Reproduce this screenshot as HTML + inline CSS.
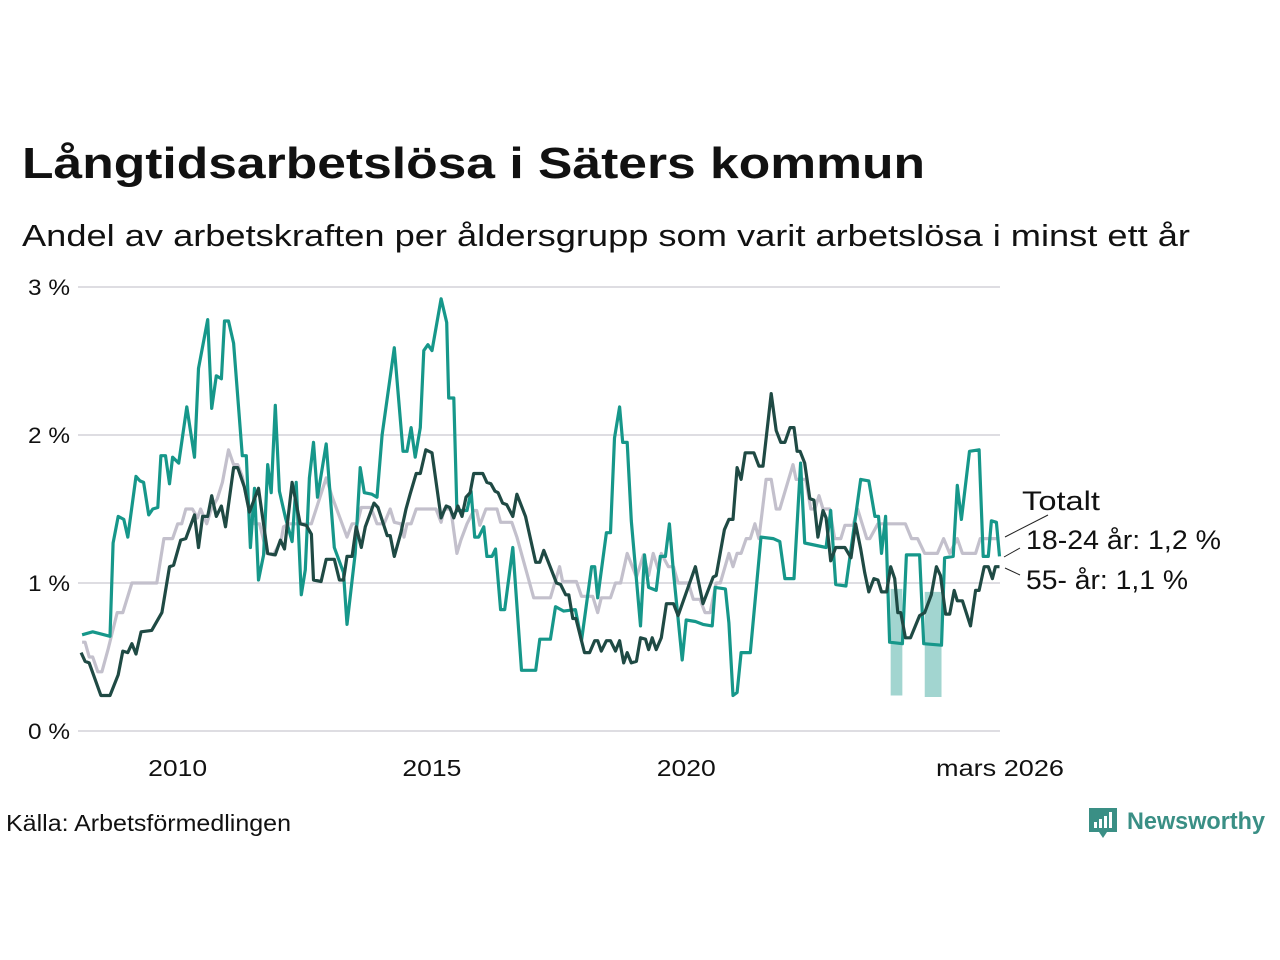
<!DOCTYPE html>
<html><head><meta charset="utf-8"><style>
html,body{margin:0;padding:0;background:#fff;}
svg{display:block;font-family:"Liberation Sans",sans-serif;}
</style></head><body>
<svg id="chart" width="1280" height="960" viewBox="0 0 1280 960">
<text x="22" y="178" font-size="44" font-weight="bold" fill="#111" textLength="903" lengthAdjust="spacingAndGlyphs">Långtidsarbetslösa i Säters kommun</text>
<text x="22" y="246" font-size="31" fill="#111" textLength="1168" lengthAdjust="spacingAndGlyphs">Andel av arbetskraften per åldersgrupp som varit arbetslösa i minst ett år</text>
<g id="grid"></g>
<g id="bands"></g>
<g id="lines"></g>
<g id="labels"></g>
<g>
<line x1="1005" y1="537" x2="1048" y2="515" stroke="#222" stroke-width="1"/>
<line x1="1004" y1="557" x2="1020" y2="548" stroke="#222" stroke-width="1"/>
<line x1="1005" y1="568" x2="1020" y2="575" stroke="#222" stroke-width="1"/>
<text x="1022" y="510" font-size="27" fill="#111" textLength="78" lengthAdjust="spacingAndGlyphs">Totalt</text>
<text x="1026" y="549" font-size="27" fill="#111" textLength="195" lengthAdjust="spacingAndGlyphs">18-24 år: 1,2 %</text>
<text x="1026" y="589" font-size="27" fill="#111" textLength="162" lengthAdjust="spacingAndGlyphs">55- år: 1,1 %</text>
</g>
<text x="6" y="831" font-size="23" fill="#111" textLength="285" lengthAdjust="spacingAndGlyphs">Källa: Arbetsförmedlingen</text>
<g>
<path d="M1089 808 h28 v24 h-10 l-4 6 l-4 -6 h-10 z" fill="#3a8f85"/>
<rect x="1094" y="822" width="3" height="6" fill="#fff"/><rect x="1099" y="819" width="3" height="9" fill="#fff"/><rect x="1104" y="816" width="3" height="12" fill="#fff"/><rect x="1109" y="812" width="3" height="16" fill="#fff"/>
<text x="1127" y="829" font-size="24" font-weight="bold" fill="#3a8f85" textLength="138" lengthAdjust="spacingAndGlyphs">Newsworthy</text>
</g>
</svg>
<script>
const yTicks=[0,1,2,3];
const yTickLabels=["0 %","1 %","2 %","3 %"];
const xTicks=[2010,2015,2020,2026.17];
const xTickLabels=["2010","2015","2020","mars 2026"];
const youthT=[2008.12,2008.33,2008.67,2008.73,2008.83,2008.94,2009.02,2009.18,2009.26,2009.33,2009.43,2009.51,2009.61,2009.67,2009.76,2009.84,2009.90,2010.02,2010.08,2010.18,2010.33,2010.41,2010.59,2010.67,2010.76,2010.86,2010.92,2011.00,2011.10,2011.27,2011.35,2011.43,2011.51,2011.59,2011.69,2011.77,2011.84,2011.92,2012.00,2012.12,2012.25,2012.33,2012.43,2012.51,2012.59,2012.67,2012.75,2012.92,2013.08,2013.26,2013.33,2013.49,2013.59,2013.67,2013.82,2013.92,2014.02,2014.26,2014.43,2014.51,2014.59,2014.67,2014.77,2014.84,2014.92,2015.00,2015.18,2015.29,2015.33,2015.43,2015.49,2015.69,2015.77,2015.84,2015.92,2016.02,2016.08,2016.18,2016.25,2016.35,2016.43,2016.59,2016.76,2017.04,2017.12,2017.33,2017.43,2017.59,2017.82,2017.94,2018.14,2018.20,2018.26,2018.43,2018.51,2018.59,2018.69,2018.75,2018.84,2018.92,2019.10,2019.18,2019.26,2019.41,2019.49,2019.59,2019.67,2019.75,2019.92,2020.00,2020.18,2020.33,2020.51,2020.57,2020.77,2020.84,2020.92,2021.00,2021.08,2021.26,2021.47,2021.71,2021.84,2021.94,2022.12,2022.25,2022.33,2022.75,2022.84,2022.94,2023.14,2023.43,2023.59,2023.71,2023.78,2023.84,2023.92,2024.00,2024.25,2024.33,2024.59,2024.67,2025.02,2025.08,2025.25,2025.33,2025.41,2025.57,2025.76,2025.84,2025.94,2026.00,2026.10,2026.16];
const youthV=[0.65,0.67,0.64,1.27,1.45,1.43,1.31,1.72,1.69,1.68,1.46,1.50,1.51,1.86,1.86,1.67,1.85,1.81,1.95,2.19,1.85,2.45,2.78,2.18,2.40,2.38,2.77,2.77,2.62,1.86,1.86,1.24,1.64,1.02,1.19,1.80,1.61,2.20,1.62,1.44,1.28,1.68,0.92,1.09,1.71,1.95,1.58,1.94,1.24,1.07,0.72,1.20,1.78,1.61,1.60,1.58,2.00,2.59,1.89,1.89,2.05,1.85,2.05,2.57,2.61,2.57,2.92,2.76,2.25,2.25,1.49,1.49,1.62,1.31,1.31,1.38,1.18,1.18,1.23,0.82,0.82,1.24,0.41,0.41,0.62,0.62,0.84,0.81,0.82,0.61,1.11,1.11,0.90,1.34,1.34,1.98,2.19,1.95,1.95,1.42,0.71,1.19,0.97,0.95,1.18,1.18,1.40,1.07,0.48,0.75,0.74,0.72,0.71,0.97,0.96,0.73,0.24,0.26,0.53,0.53,1.31,1.30,1.28,1.03,1.03,1.81,1.27,1.24,1.49,0.99,0.98,1.70,1.69,1.45,1.45,1.20,1.45,0.60,0.59,1.19,1.19,0.59,0.58,1.17,1.18,1.66,1.43,1.89,1.90,1.18,1.18,1.42,1.41,1.18];
const seniorT=[2008.10,2008.18,2008.26,2008.49,2008.67,2008.83,2008.92,2009.02,2009.10,2009.18,2009.28,2009.49,2009.69,2009.84,2009.92,2010.06,2010.16,2010.33,2010.41,2010.49,2010.59,2010.67,2010.76,2010.86,2010.94,2011.10,2011.18,2011.31,2011.41,2011.59,2011.77,2011.92,2012.02,2012.10,2012.25,2012.41,2012.53,2012.63,2012.67,2012.82,2012.92,2013.08,2013.18,2013.26,2013.33,2013.43,2013.51,2013.61,2013.69,2013.86,2013.94,2014.12,2014.18,2014.26,2014.39,2014.49,2014.57,2014.69,2014.77,2014.88,2015.00,2015.18,2015.28,2015.35,2015.43,2015.51,2015.59,2015.67,2015.75,2015.82,2016.00,2016.08,2016.16,2016.24,2016.30,2016.39,2016.47,2016.59,2016.67,2016.84,2017.04,2017.12,2017.20,2017.45,2017.53,2017.63,2017.69,2017.77,2017.83,2018.00,2018.10,2018.20,2018.26,2018.33,2018.43,2018.51,2018.61,2018.69,2018.77,2018.84,2018.92,2019.02,2019.10,2019.20,2019.26,2019.33,2019.41,2019.51,2019.61,2019.75,2019.84,2020.18,2020.33,2020.53,2020.59,2020.75,2020.84,2020.92,2021.00,2021.08,2021.16,2021.33,2021.43,2021.51,2021.67,2021.77,2021.86,2021.94,2022.04,2022.12,2022.18,2022.24,2022.33,2022.43,2022.51,2022.59,2022.69,2022.75,2022.84,2022.94,2023.12,2023.24,2023.33,2023.43,2023.51,2023.59,2023.69,2023.77,2023.84,2023.94,2024.02,2024.10,2024.16,2024.22,2024.31,2024.41,2024.59,2024.69,2024.82,2024.92,2025.00,2025.10,2025.18,2025.27,2025.33,2025.43,2025.59,2025.69,2025.76,2025.86,2025.94,2026.02,2026.08,2026.16];
const seniorV=[0.53,0.47,0.46,0.24,0.24,0.38,0.54,0.53,0.59,0.52,0.67,0.68,0.80,1.11,1.12,1.29,1.30,1.46,1.24,1.45,1.45,1.59,1.45,1.52,1.38,1.78,1.78,1.65,1.48,1.64,1.20,1.19,1.29,1.23,1.68,1.40,1.39,1.33,1.02,1.01,1.16,1.16,1.02,1.02,1.18,1.18,1.38,1.24,1.38,1.54,1.51,1.32,1.32,1.18,1.34,1.50,1.60,1.74,1.74,1.90,1.88,1.44,1.52,1.51,1.44,1.52,1.45,1.58,1.61,1.74,1.74,1.68,1.67,1.62,1.61,1.54,1.53,1.45,1.60,1.45,1.14,1.14,1.22,1.00,0.99,0.92,0.92,0.76,0.76,0.53,0.53,0.61,0.61,0.54,0.61,0.61,0.54,0.61,0.46,0.53,0.46,0.47,0.63,0.62,0.55,0.63,0.55,0.63,0.86,0.86,0.78,1.11,0.86,1.04,1.05,1.36,1.43,1.43,1.78,1.70,1.88,1.88,1.79,1.79,2.28,2.03,1.95,1.95,2.05,2.05,1.89,1.89,1.81,1.57,1.56,1.31,1.49,1.44,1.15,1.24,1.24,1.17,1.40,1.23,1.07,0.94,1.03,1.02,0.94,0.94,1.11,1.03,0.80,0.80,0.63,0.63,0.78,0.80,0.92,1.11,1.05,0.79,0.79,0.95,0.88,0.88,0.71,0.95,0.95,1.11,1.11,1.03,1.11,1.11];
const totalT=[2008.12,2008.18,2008.26,2008.33,2008.43,2008.51,2008.63,2008.81,2008.92,2009.10,2009.59,2009.73,2009.90,2010.00,2010.08,2010.16,2010.29,2010.39,2010.45,2010.57,2010.65,2010.78,2010.88,2011.00,2011.10,2011.18,2011.27,2011.39,2011.51,2011.61,2011.75,2011.88,2011.96,2012.04,2012.08,2012.20,2012.63,2012.92,2013.04,2013.33,2013.43,2013.53,2013.61,2013.80,2013.92,2014.06,2014.18,2014.26,2014.39,2014.45,2014.51,2014.59,2014.69,2015.08,2015.18,2015.24,2015.37,2015.49,2015.57,2015.69,2015.82,2015.88,2015.94,2016.06,2016.28,2016.35,2016.57,2016.67,2017.00,2017.33,2017.51,2017.57,2017.84,2017.94,2018.16,2018.26,2018.33,2018.51,2018.61,2018.71,2018.84,2019.02,2019.16,2019.26,2019.35,2019.45,2019.51,2019.65,2019.75,2019.84,2020.04,2020.14,2020.27,2020.37,2020.47,2020.59,2020.67,2020.84,2020.92,2021.00,2021.08,2021.18,2021.26,2021.35,2021.43,2021.57,2021.67,2021.77,2021.84,2022.10,2022.16,2022.35,2022.45,2022.53,2022.61,2022.69,2022.82,2022.92,2023.04,2023.12,2023.28,2023.37,2023.45,2023.55,2023.61,2023.77,2024.31,2024.43,2024.55,2024.69,2024.94,2025.06,2025.18,2025.33,2025.43,2025.69,2025.78,2026.16];
const totalV=[0.60,0.60,0.50,0.50,0.40,0.40,0.55,0.80,0.80,1.00,1.00,1.30,1.30,1.40,1.40,1.50,1.50,1.44,1.50,1.40,1.49,1.57,1.68,1.90,1.80,1.80,1.72,1.51,1.40,1.40,1.20,1.19,1.24,1.30,1.38,1.40,1.40,1.71,1.58,1.31,1.40,1.40,1.51,1.51,1.40,1.40,1.50,1.41,1.40,1.31,1.40,1.40,1.50,1.50,1.41,1.50,1.50,1.20,1.29,1.40,1.49,1.49,1.39,1.50,1.50,1.41,1.41,1.31,0.90,0.90,1.11,1.01,1.01,0.91,0.91,0.80,0.90,0.90,1.00,1.00,1.20,1.04,1.19,1.05,1.20,1.09,1.20,1.11,1.11,1.00,1.00,0.89,0.89,0.80,0.80,1.00,1.00,1.20,1.11,1.20,1.20,1.30,1.30,1.40,1.30,1.70,1.70,1.50,1.50,1.80,1.70,1.70,1.50,1.50,1.59,1.50,1.50,1.30,1.30,1.39,1.39,1.50,1.41,1.30,1.30,1.40,1.40,1.30,1.30,1.20,1.20,1.30,1.20,1.30,1.20,1.20,1.30,1.30];
const bandT=[[2024.02,2024.25],[2024.69,2025.02]];
const bandLow=[0.24,0.23];
const bandHigh=[0.96,0.94];

const NS="http://www.w3.org/2000/svg";
const X0=78,X1=1000,T0=2008.04,T1=2026.17;
const xs=t=>X0+(t-T0)/(T1-T0)*(X1-X0);
const ys=v=>731-v*148;
function mk(tag,attrs,parent){const e=document.createElementNS(NS,tag);for(const k in attrs)e.setAttribute(k,attrs[k]);parent.appendChild(e);return e;}
const grid=document.getElementById('grid');
const labels=document.getElementById('labels');
yTicks.forEach((v,i)=>{
  const l=mk('line',{x1:X0,x2:X1,y1:ys(v),y2:ys(v),stroke:'#dedde2','stroke-width':2},grid);
  
  
  const t=mk('text',{x:70,y:ys(v)+8,'font-size':22,fill:'#111','text-anchor':'end',textLength:42,lengthAdjust:'spacingAndGlyphs'},labels);
  t.textContent=yTickLabels[i];
  
  
});
xTicks.forEach((tv,i)=>{
  const w=xTickLabels[i].length>4?128:59;
  const t=mk('text',{x:xs(tv),y:776,'font-size':23,fill:'#111','text-anchor':'middle',textLength:w,lengthAdjust:'spacingAndGlyphs'},labels);
  t.textContent=xTickLabels[i];
  
  
});
const bands=document.getElementById('bands');
bandT.forEach((b,i)=>{
  const pts=[[b[0],bandHigh[i]],[b[1],bandHigh[i]],[b[1],bandLow[i]],[b[0],bandLow[i]]].map(p=>xs(p[0])+','+ys(p[1])).join(' ');
  const p=mk('polygon',{points:pts,fill:'#16978a','fill-opacity':0.4},bands);
  
  
});
const lines=document.getElementById('lines');
function drawLine(T,V,color,name){
  const d=T.map((t,i)=>(i?'L':'M')+xs(t).toFixed(1)+' '+ys(V[i]).toFixed(1)).join(' ');
  const p=mk('path',{d:d,fill:'none',stroke:color,'stroke-width':3.2,'stroke-linejoin':'round'},lines);
  
  
}
drawLine(totalT,totalV,'#c3c0cc','line-totalt');
drawLine(youthT,youthV,'#16978a','line-18-24');
drawLine(seniorT,seniorV,'#1f4a44','line-55');
</script>
</body></html>
